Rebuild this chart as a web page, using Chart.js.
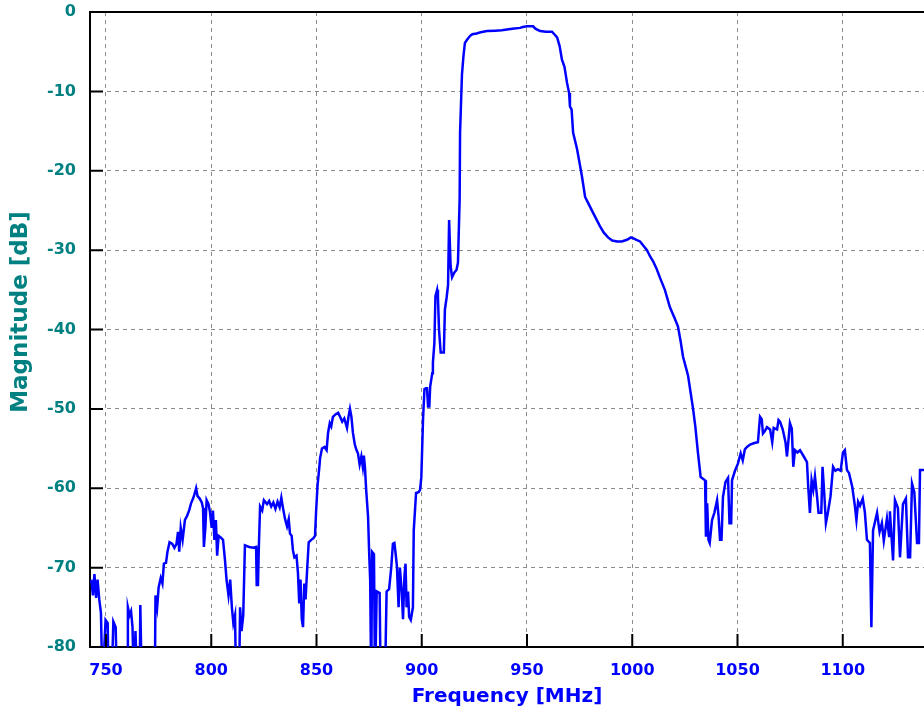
<!DOCTYPE html>
<html>
<head>
<meta charset="utf-8">
<script src="https://cdn.jsdelivr.net/npm/chart.js@4/dist/chart.umd.min.js"></script>
<style>
  html, body { margin: 0; padding: 0; background: #fff; }
  #wrap { width: 924px; height: 717px; position: relative; }
</style>
</head>
<body>
<div id="wrap"><canvas id="chart"></canvas></div>
<script>
// data (MHz, dB); values below -80 run off the bottom
const freqMHz = [
  743, 743.8, 744.5, 745.3, 746, 746.8, 747.6, 748.3, 749.8, 750.8, 751.3, 752.6, 753.5, 754.6, 755.2,
  760, 760.4, 761.2, 761.9, 762.6, 763.3, 764, 764.8, 766, 766.3, 767, 773.2,
  773.5, 774.3, 775, 776, 776.8, 777.5, 778.5, 779.2, 780.2, 781.5, 782.5, 783.5, 784.2, 784.8, 785.5,
  786.4, 787.5, 788.5, 789.5, 790.4, 791.5, 792.3, 792.8, 793.5, 794.5, 795.5, 796.1, 796.5, 797.2,
  797.8, 798.7, 799.4, 800.2, 800.8, 801.5, 802.2, 802.8, 803.5, 804.5, 805.6, 806.5, 807.3, 808.2,
  809, 809.8, 810.5, 811.3, 811.8, 813.2, 813.7, 814.4, 815.2, 816,
  818, 820, 821.3, 821.6, 822.2, 822.6, 823.2, 824.2, 825, 826.5, 827.5, 828.5, 829.5, 830.5, 831.5,
  832.5, 833.3, 834.1, 835, 836, 836.8, 837.4, 838.2, 838.8, 839.5, 840.5, 841.2, 841.8, 842.4, 843,
  843.6, 844.2, 844.8, 845.5, 846.3, 847.5, 848.5, 849.3, 849.8, 850.5, 851.3, 851.7, 852.6, 853.8,
  854.8, 855.5, 856.3, 857, 857.8, 859, 860.3, 861.2, 862.2, 863.2, 864.5, 865.2, 865.9, 866.6, 867.3,
  868.2, 869, 869.7, 870.5, 871.3, 872, 872.5, 873, 873.6, 874.5, 875, 875.5, 876, 876.4, 877.3, 877.8,
  878.6, 880, 880.5, 882.5, 883.3, 884.5, 885.5, 886.3, 887, 887.5, 888.2, 889, 889.6, 890.5, 891.1,
  891.8, 892.3, 892.8, 893.5, 894, 894.8, 895.8, 896.2, 897.3, 898.5, 899.2, 899.8, 900.6, 901.3, 902,
  902.5, 903, 903.6, 904, 905, 905.3, 906, 906.5, 907.3, 907.7, 908.2, 909, 910.5, 911, 911.8, 912.5,
  913, 913.4, 913.7, 914.4, 915.5, 916.5, 917.2, 918, 918.2, 918.6, 919.1, 919.8, 920.5, 921.5, 923,
  924, 926, 928, 931, 935, 938, 940.5, 943, 946.7, 948, 950, 952.9, 954, 956.2, 959, 961.9, 963, 964.3,
  965.5, 966.6, 967.8, 969, 970, 970.4, 971.2, 971.9, 973.8, 976.1, 977.6, 979.5, 981.4, 984.7, 986.5,
  988.5, 990.5, 992.8, 995, 997.5, 999.4, 1000.4, 1002, 1003.7, 1005.5, 1007, 1008.5, 1009.9, 1011.5,
  1013.2, 1015.5, 1017.9, 1020, 1021.7, 1023, 1024.1, 1026.5, 1028.9, 1030, 1031.2, 1032.5, 1034.6,
  1035, 1035.6, 1036.2, 1036.8, 1037.9, 1039, 1040.3, 1041, 1041.7, 1042.4, 1043.1, 1044.3, 1045.5,
  1046.2, 1047, 1047.4, 1048.8, 1050.2, 1051.5, 1052.5, 1053.5, 1054.5, 1056, 1058, 1059.7, 1060.7,
  1061.5, 1062.1, 1063, 1064, 1065.5, 1066.5, 1067.2, 1068.8, 1069.5, 1070.2, 1071.5, 1072.8, 1073.5,
  1074.2, 1074.9, 1075.8, 1076.5, 1077.3, 1078.5, 1079.7, 1081.5, 1083, 1083.6, 1084.4, 1085.2, 1086,
  1086.8, 1087.8, 1088.5, 1089.8, 1090.4, 1091.2, 1092, 1093, 1094.2, 1095.4, 1096.5, 1097.7, 1099,
  1100.1, 1101, 1102, 1103, 1104.5, 1105.8, 1106.5, 1107.3, 1108.2, 1109.5, 1110.5, 1111.5, 1112.9,
  1113.6, 1114.4, 1116.3, 1117.5, 1118.6, 1119.5, 1121, 1122, 1122.4, 1123.9, 1124.8, 1126.2, 1127.2,
  1128.6, 1130, 1131, 1132, 1132.9, 1134, 1135.3, 1136.2, 1136.7, 1138.6
]
const magDb = [
  -71.5, -73.5, -70.8, -73.8, -71.5, -74, -75.7, -85, -76.6, -77, -85, -85, -76.8, -77.5, -85,
  -85, -75, -76, -75.5, -77.5, -85, -78, -85, -85, -74.7, -85, -85,
  -73.5, -75, -72.5, -71.3, -72, -69.5, -69.4, -68, -66.8, -67, -67.5, -67, -65.5, -68, -65,
  -66.5, -64, -63.5, -62.8, -61.9, -61.2, -60.5, -60, -61, -61.3, -61.8, -62.5, -67.4, -65,
  -61.5, -62, -63, -65, -62.8, -66.5, -64, -68.5, -66, -66.2, -66.5, -69, -71.6, -73.5,
  -71.5, -75, -77, -76, -85, -85, -75, -78, -76, -67.2,
  -67.4, -67.5, -67.4, -72.2, -72.2, -67.5, -62.3, -62.8, -61.5, -62, -61.6, -62.3, -61.8, -62.6, -61.7,
  -62.4, -61.2, -62.5, -63.8, -64.8, -63.9, -65.7, -66, -67.8, -68.7, -68.5, -70.7, -74.5, -71.5, -76.5,
  -77.5, -72, -74, -70.5, -66.8, -66.5, -66.3, -66, -63, -59.6, -57.5, -56.2, -55, -54.8,
  -55.2, -53, -51.8, -52.2, -51, -50.7, -50.5, -51, -51.6, -51.2, -52.4, -51, -50, -51, -53,
  -54.5, -55.2, -55.6, -57, -56, -57.3, -55.9, -57.3, -60.2, -63.6, -68, -71.6, -85, -68, -68.3, -85,
  -73, -73.2, -85, -85, -73, -72.7, -70, -67, -66.9, -68, -69.8, -75, -70, -73, -76.5,
  -71, -69.5, -75, -73, -76.2, -76.6, -75, -65.3, -60.6, -60.5, -60.2, -58.6, -51.4, -47.5, -47.4,
  -47.4, -49.7, -49.7, -47.2, -45.5, -44.2, -41.7, -35.8, -35, -36, -40, -42.9, -42.9, -37.5, -36, -34.4,
  -26.2, -26.2, -32, -33.4, -32.8, -32.5, -31.6, -23.6, -15.2, -15.2, -7.9, -5.6, -3.9, -3.5, -3,
  -2.8, -2.7, -2.55, -2.4, -2.35, -2.3, -2.2, -2.1, -2, -1.9, -1.8, -1.8, -2.1, -2.4, -2.5, -2.5, -2.8, -3.2,
  -4.3, -6, -6.9, -8.9, -10.2, -11.9, -12.3, -15.2, -17.3, -20.7, -23.3, -24.3, -25.3, -27, -27.8,
  -28.4, -28.8, -28.9, -28.9, -28.7, -28.4, -28.5, -28.7, -28.9, -29.5, -30, -30.8, -31.4, -32.3,
  -33.5, -35, -37.2, -38.5, -39.6, -41.5, -43.4, -45.8, -50, -52.3, -55.5, -58.6, -59,
  -66.1, -61.9, -66.5, -66.9, -64, -63.1, -61.5, -63.5, -66.5, -66.5, -61.1, -59.2, -58.7,
  -64.4, -64.4, -59, -57.8, -56.9, -55.6, -56.5, -55.1, -54.8, -54.5, -54.3, -54.2, -51,
  -51.3, -53.1, -52.8, -52.3, -52.6, -54.2, -52.4, -52.6, -51.4, -51.6, -52.6, -54.2, -56,
  -54, -51.8, -52.5, -57.3, -55.2, -55.5, -55.2, -56, -56.7, -59.8, -63.1, -59, -60.2,
  -58.5, -61.1, -63.1, -63.1, -57.3, -60.6, -64.4, -63, -61, -57.3, -57.8, -57.6, -57.8,
  -55.5, -55.2, -57.7, -58.1, -59.8, -62.3, -64, -61.7, -62.2, -61.3, -63, -66.5, -66.9,
  -77.5, -65.3, -63.1, -65.5, -64.4, -66.6, -63.8, -66, -62.9, -69.1, -61.5, -62.5, -68.7,
  -62, -61.3, -68.7, -68.7, -59.4, -60.5, -66.9, -66.9, -57.7, -57.7
]
const xTicks = [750, 800, 850, 900, 950, 1000, 1050, 1100]
const yTicks = [-80, -70, -60, -50, -40, -30, -20, -10, 0]

const teal = "#008080"
const blue = "#0000ff"

// axis frame: top border, short inner tick marks and the y title
const framePlugin = {
  id: "frame",
  afterDraw(chart) {
    const { ctx, chartArea: a, scales } = chart
    ctx.save()
    ctx.strokeStyle = "#000"
    ctx.lineWidth = 2
    ctx.beginPath()
    ctx.moveTo(a.left, a.top)
    ctx.lineTo(a.right, a.top)
    xTicks.forEach(v => {
      const x = scales.x.getPixelForValue(v)
      ctx.moveTo(x, a.bottom)
      ctx.lineTo(x, a.bottom - 13)
    })
    yTicks.forEach(v => {
      const y = scales.y.getPixelForValue(v)
      ctx.moveTo(a.left, y)
      ctx.lineTo(a.left + 13, y)
    })
    ctx.stroke()

    ctx.translate(21, 312)
    ctx.rotate(-Math.PI / 2)
    ctx.fillStyle = teal
    ctx.font = "bold 23px 'DejaVu Sans'"
    ctx.textAlign = "center"
    ctx.textBaseline = "middle"
    ctx.fillText("Magnitude [dB]", 0, 0)
    ctx.restore()
  }
}

new Chart(document.getElementById("chart"), {
  type: "line",
  data: {
    datasets: [{
      data: freqMHz.map((f, i) => ({ x: f, y: magDb[i] })),
      borderColor: blue,
      borderWidth: 2.5,
      pointRadius: 0,
      tension: 0,
      fill: false
    }]
  },
  options: {
    responsive: true,
    maintainAspectRatio: false,
    animation: false,
    layout: { padding: { top: 12, right: 0, left: 0, bottom: 0 } },
    plugins: { legend: { display: false }, tooltip: { enabled: false } },
    scales: {
      x: {
        type: "linear",
        min: 742.4,
        max: 1138.6,
        afterBuildTicks: s => { s.ticks = xTicks.map(v => ({ value: v })) },
        afterFit: s => { s.height = 70; s.paddingLeft = 0; s.paddingRight = 0 },
        grid: { color: "#8c8c8c", lineWidth: 1, drawTicks: false },
        border: { display: true, color: "#000", width: 2, dash: [4, 4] },
        ticks: {
          color: blue,
          padding: 14,
          maxRotation: 0,
          autoSkip: false,
          callback: v => String(v),
          font: { family: "DejaVu Sans", size: 16, weight: "bold" }
        },
        title: {
          display: true,
          text: "Frequency [MHz]",
          color: blue,
          padding: { top: 0, bottom: 8 },
          font: { family: "DejaVu Sans", size: 20, weight: "bold" }
        }
      },
      y: {
        min: -80,
        max: 0,
        afterBuildTicks: s => { s.ticks = yTicks.map(v => ({ value: v })) },
        afterFit: s => { s.width = 90; s.paddingTop = 0; s.paddingBottom = 0 },
        grid: { color: "#8c8c8c", lineWidth: 1, drawTicks: false },
        border: { display: true, color: "#000", width: 2, dash: [4, 4] },
        ticks: {
          color: teal,
          padding: 14,
          callback: v => String(v),
          font: { family: "DejaVu Sans", size: 16, weight: "bold" }
        }
      }
    }
  },
  plugins: [framePlugin]
})
</script>
</body>
</html>
